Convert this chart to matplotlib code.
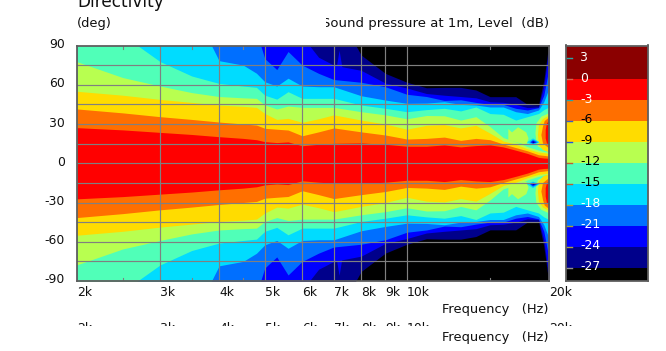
import matplotlib
matplotlib.use("Agg")
import matplotlib.pyplot as plt
from matplotlib.transforms import Bbox

W, H = 666, 351

## Data
freqs = [2000, 2500, 3000, 3500, 4000, 4500, 4800, 5000, 5300, 5600, 6000, 6500, 7000, 8000,
         9000, 10000, 11000, 12000, 13000, 14000, 15000, 16000, 17000, 18000, 19000, 19500, 20000]

# angle (deg) where the level is crossed, upper half, the lower half is a mirror of it
a3 = [27.2, 25.5, 23.6, 22, 20.3, 19, 18, 16.5, 15.8, 16.3, 13.4, 14.5, 15.2, 15.5,
      14.5, 13, 13, 14, 12.5, 13.5, 14, 12.5, 10, 7.5, 4.5, 4, 3.8]
a6 = [41.5, 38.5, 35.6, 33.5, 31.5, 30, 29.2, 26.7, 26, 25.4, 21, 24, 27, 24,
      21.6, 18.5, 19, 20, 17.5, 19, 18, 14.7, 12, 9.5, 6.5, 6, 5.5]
a9 = [55, 52, 48.8, 46.5, 44.5, 43.5, 42.7, 38, 33.5, 34.3, 31.3, 34, 37, 33,
      30, 26, 29, 29.5, 27, 29, 23, 17, 14.5, 11, 8.5, 8, 7.5]
a12 = [77.6, 65.5, 59, 54, 51, 50, 49.6, 44.5, 41.5, 43.7, 42.7, 42.7, 42.7, 39.4,
       37, 34, 36.5, 36.3, 33, 35.6, 28, 19.6, 16.5, 12.7, 10, 9, 8.4]
a15 = [120, 98, 77.7, 66.7, 61, 59, 58, 52, 49, 54.7, 49.6, 49.6, 49.6, 44.5,
       42, 39.4, 41, 42, 40, 43, 38, 37.4, 33, 35.6, 38, 41, 43]
a18 = [120, 120, 120, 120, 78.4, 75, 68.8, 62.3, 59, 65, 59, 58.5, 58.5, 51.6,
       48.3, 45.8, 46, 47, 45, 44.5, 43, 43, 39.4, 38, 40.7, 47, 57.3]
a21 = [120, 120, 120, 120, 120, 120, 100, 80, 71.6, 85.4, 75, 68.7, 64, 61.9,
       58.5, 52.7, 51, 48, 48.5, 46.5, 45, 45, 42, 40.7, 42.5, 52, 72.6]
a24 = [120, 120, 120, 120, 120, 120, 120, 120, 120, 120, 97, 81, 75, 71,
       61.3, 57.5, 53.3, 52, 51, 50, 47, 46.6, 45, 42.5, 43, 58.5, 88]
a27 = [120, 120, 120, 120, 120, 120, 120, 120, 120, 120, 120, 120, 120, 82.7,
       68.7, 61.9, 57.7, 58, 58, 56, 50.9, 50.9, 50.9, 45, 44.5, 63.6, 92]

# closed patches that the level curves can't follow: (freq, angle)
patch_pocket = [(7100, 73), (7200, 86), (7300, 73)]
patch_island = [(16400, 26.2), (16700, 23.6), (17200, 27.5), (17900, 23.6), (18100, 19),
                (17900, 14), (16400, 17.8)]
patch_edge12 = [(20000, 38.2), (19270, 35.6), (18810, 30.5), (18720, 22.9), (18810, 16.5),
                (18950, 12.7), (20000, 8.9)]
patch_edge9 = [(20000, 36.4), (19420, 33.8), (19040, 29.2), (18950, 21.6), (19040, 14),
               (19420, 10.1), (20000, 8.4)]
patch_edge6 = [(20000, 34.9), (19590, 32.3), (19420, 28), (19270, 21.6), (19420, 15.2),
               (20000, 11.4)]
patch_edge3 = [(20000, 32.3), (19800, 30.5), (19680, 25.4), (19680, 19), (19800, 15.2),
               (20000, 14)]
notch15 = [(17960, 16), (18500, 19), (19100, 16), (18500, 14)]
notch18 = [(18200, 16), (18500, 18), (18950, 16), (18500, 14.8)]
notch21 = [(18300, 16), (18500, 17.2), (18800, 16), (18500, 15.2)]
notch24 = [(18450, 16), (18550, 16.7), (18650, 16), (18550, 15.4)]

# colours
c_p3 = "#8b0000"
c_0 = "#ff0000"
c_3 = "#ff6f00"
c_6 = "#ffdc00"
c_9 = "#b8ff50"
c_12 = "#50ffb8"
c_15 = "#00dcff"
c_18 = "#006fff"
c_21 = "#0000ff"
c_24 = "#00008b"
c_27 = "#000000"

bands = [(a27, c_24), (a24, c_21), (a21, c_18), (a18, c_15), (a15, c_12),
         (a12, c_9), (a9, c_6), (a6, c_3), (a3, c_0)]
patches = [(patch_pocket, c_21), (patch_island, c_9), (patch_edge12, c_9), (patch_edge9, c_6),
           (patch_edge6, c_3), (patch_edge3, c_0), (notch15, c_15), (notch18, c_18),
           (notch21, c_21), (notch24, c_24)]

deg_ticks = [90, 60, 30, 0, -30, -60, -90]
deg_grid = [75, 60, 45, 30, 15, 0, -15, -30, -45, -60, -75]
freq_grid = [3000, 4000, 5000, 6000, 7000, 8000, 9000, 10000]
freq_minor = [2500, 3500, 4500, 15000]
freq_ticks = [2000, 3000, 4000, 5000, 6000, 7000, 8000, 9000, 10000, 20000]
freq_labels = ["2k", "3k", "4k", "5k", "6k", "7k", "8k", "9k", "10k", "20k"]

cb_levels = [3, 0, -3, -6, -9, -12, -15, -18, -21, -24, -27]
cb_tick_cols = ["#2aa5a5", "#d06a50", "#2aa5a5", "#3a5fc0", "#2050e0", "#c06030", "#c06030",
                "#a8a040", "#a8a030", "#a8a040", "#909090"]
cb_text_cols = ["white", "white", "white", "black", "black", "black", "black",
                "white", "white", "white", "white"]
cb_edges = [4.8, 0, -3, -6, -9, -12, -15, -18, -21, -24, -27, -28.9]
cb_cols = [c_p3, c_0, c_3, c_6, c_9, c_12, c_15, c_18, c_21, c_24, c_27]

## Figure
FS = 9.4
TICK_FS = 8.9
FRAME = "#5f5f5f"
GRID = "#808080"


def px_axes(x0, y0, x1, y1):
    return fig.add_axes([x0 / W, 1 - y1 / H, (x1 - x0) / W, (y1 - y0) / H])


def px_text(x, y, s, clip=None, **kw):
    kw.setdefault("fontsize", FS)
    kw.setdefault("va", "center")
    kw.setdefault("color", "#101010")
    t = fig.text(x / W, 1 - y / H, s, **kw)
    if clip is not None:
        # clip is x0, y0, x1, y1 in picture pixels
        t.set_clip_box(Bbox.from_extents(clip[0], H - clip[3], clip[2], H - clip[1]))
        t.set_clip_on(True)
    return t


fig = plt.figure(figsize=(W / 100, H / 100), dpi=100, facecolor="white")

ax = px_axes(77, 45.5, 549, 281)
ax.set_facecolor(c_27)
ax.set_xscale("log")
ax.set_xlim(2000, 20000)
ax.set_ylim(-90, 90)

for curve, col in bands:
    ax.fill_between(freqs, [-v for v in curve], curve, color=col, lw=0, zorder=1)
for pts, col in patches:
    xs = [p[0] for p in pts]
    ys = [p[1] for p in pts]
    ax.fill(xs, ys, color=col, lw=0, zorder=2)
    ax.fill(xs, [-v for v in ys], color=col, lw=0, zorder=2)

for d in deg_grid:
    ax.axhline(d, color=GRID, lw=0.85, zorder=3)
for f in freq_grid:
    ax.axvline(f, color=GRID, lw=0.85, zorder=3)
for f in freq_minor:
    ax.plot([f, f], [90, 87.7], color=GRID, lw=0.8, zorder=3)
    ax.plot([f, f], [-90, -87.7], color=GRID, lw=0.8, zorder=3)

ax.set_xticks([])
ax.set_yticks([])
ax.minorticks_off()
for s in ax.spines.values():
    s.set_color(FRAME)
    s.set_linewidth(1.3)
    s.set_zorder(5)

for d in deg_ticks:
    y = 163.25 - d * 1.308
    px_text(65, y - 1, str(d), ha="right", fontsize=TICK_FS)

for lab, f in zip(freq_labels, freq_ticks):
    x = ax.transData.transform((f, 0))[0]
    px_text(x, 293, lab, ha="left", fontsize=TICK_FS)
    px_text(x, 329, lab, ha="left", fontsize=TICK_FS, clip=(0, 320, W, 326))

px_text(77, 2, "Directivity", fontsize=12.2, ha="left")
px_text(77, 24, "(deg)", ha="left")
# the S is cut in half in the reference
px_text(549, 24, "Sound pressure at 1m, Level  (dB)", ha="right", fontsize=9.55, clip=(326, 10, W, 40))
px_text(549, 310, "Frequency   (Hz)", ha="right")
px_text(549, 338, "Frequency   (Hz)", ha="right")

## Colour bar
cb = px_axes(566, 45.5, 648, 281)
cb.set_xlim(0, 1)
cb.set_ylim(cb_edges[-1], cb_edges[0])
for i, col in enumerate(cb_cols):
    cb.fill_between([0, 1], cb_edges[i + 1], cb_edges[i], color=col, lw=0)
for lev, tc, lc in zip(cb_levels, cb_tick_cols, cb_text_cols):
    cb.plot([0, 0.07], [lev, lev], color=tc, lw=1)
    y = cb.transData.transform((0, lev))[1]
    px_text(580, H - y - 1, str(lev), ha="left", color=lc, fontsize=TICK_FS, zorder=6)
cb.set_xticks([])
cb.set_yticks([])
for s in cb.spines.values():
    s.set_color(FRAME)
    s.set_linewidth(1.3)

fig.savefig("out.png", dpi=100)
